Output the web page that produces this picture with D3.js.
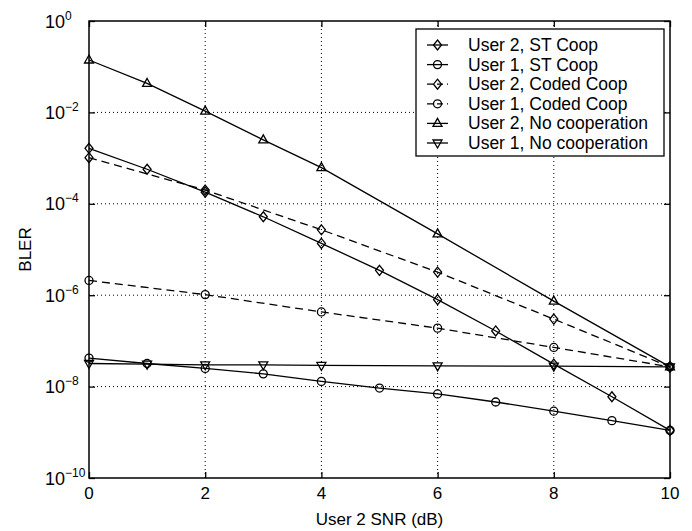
<!DOCTYPE html>
<html>
<head>
<meta charset="utf-8">
<script src="https://cdn.jsdelivr.net/npm/d3@7"></script>
<style>
  body { margin: 0; background: #fff; }
  text { font-family: "Liberation Sans", Arial, sans-serif; fill: #000; }
</style>
</head>
<body>
<div id="chart"></div>
<script>
// SNR points (dB)
const snrAll = [0, 1, 2, 3, 4, 5, 6, 7, 8, 9, 10];
const snrEven = [0, 2, 4, 6, 8, 10];
const snrNoCoop = [0, 1, 2, 3, 4, 6, 8, 10];

// BLER values
const u2St = [1.64e-3, 5.7e-4, 1.8e-4, 5.2e-5, 1.36e-5, 3.5e-6, 8e-7, 1.65e-7, 3.1e-8, 6e-9, 1.1e-9];
const u1St = [4.2e-8, 3.2e-8, 2.5e-8, 1.9e-8, 1.3e-8, 9.3e-9, 6.9e-9, 4.6e-9, 2.9e-9, 1.8e-9, 1.1e-9];
const u2Coded = [1.02e-3, 2.0e-4, 2.7e-5, 3.2e-6, 3.0e-7, 2.7e-8];
const u1Coded = [2.1e-6, 1.03e-6, 4.3e-7, 1.9e-7, 7.2e-8, 2.7e-8];
const u2No = [0.14, 0.043, 0.0107, 2.5e-3, 6.2e-4, 2.2e-5, 7.4e-7, 2.7e-8];
const u1No = [3.2e-8, 3.1e-8, 3.0e-8, 3.0e-8, 2.9e-8, 2.85e-8, 2.8e-8, 2.7e-8];

const xTicks = [0, 2, 4, 6, 8, 10];
const yExps = [0, -2, -4, -6, -8, -10];

const legendNames = [
  "User 2, ST Coop",
  "User 1, ST Coop",
  "User 2, Coded Coop",
  "User 1, Coded Coop",
  "User 2, No cooperation",
  "User 1, No cooperation"
];

const series = [
  { x: snrAll, y: u2St, marker: "diamond", dashed: false },
  { x: snrAll, y: u1St, marker: "circle", dashed: false },
  { x: snrEven, y: u2Coded, marker: "diamond", dashed: true },
  { x: snrEven, y: u1Coded, marker: "circle", dashed: true },
  { x: snrNoCoop, y: u2No, marker: "up", dashed: false },
  { x: snrNoCoop, y: u1No, marker: "down", dashed: false }
];

const w = 692;
const h = 531;
const pL = 89, pR = 670, pT = 21, pB = 478;

const xScale = d3.scaleLinear().domain([0, 10]).range([pL, pR]);
const yScale = d3.scaleLog().domain([1e-10, 1]).range([pB, pT]);

const svg = d3.select("#chart").append("svg")
  .attr("width", w)
  .attr("height", h);

// grid
svg.append("g").selectAll("line")
  .data(xTicks.slice(1, -1))
  .enter().append("line")
  .attr("x1", d => xScale(d)).attr("x2", d => xScale(d))
  .attr("y1", pT).attr("y2", pB)
  .attr("stroke", "#000").attr("stroke-width", 1)
  .attr("stroke-dasharray", "1,3");

svg.append("g").selectAll("line")
  .data(yExps.slice(1, -1))
  .enter().append("line")
  .attr("x1", pL).attr("x2", pR)
  .attr("y1", d => yScale(Math.pow(10, d))).attr("y2", d => yScale(Math.pow(10, d)))
  .attr("stroke", "#000").attr("stroke-width", 1)
  .attr("stroke-dasharray", "1,3");

// axes (ticks pointing inward, MATLAB style)
const tickLen = 6;
const xAxisB = d3.axisTop(xScale).tickValues(xTicks).tickSize(tickLen).tickFormat("");
const xAxisT = d3.axisBottom(xScale).tickValues(xTicks).tickSize(tickLen).tickFormat("");
const yVals = yExps.map(e => Math.pow(10, e));
const yAxisL = d3.axisRight(yScale).tickValues(yVals).tickSize(tickLen).tickFormat("");
const yAxisR = d3.axisLeft(yScale).tickValues(yVals).tickSize(tickLen).tickFormat("");

[
  [xAxisB, `translate(0,${pB})`],
  [xAxisT, `translate(0,${pT})`],
  [yAxisL, `translate(${pL},0)`],
  [yAxisR, `translate(${pR},0)`]
].forEach(([ax, tr]) => {
  const g = svg.append("g").attr("transform", tr).call(ax);
  g.select(".domain").remove();
  g.selectAll("line").attr("stroke", "#000").attr("stroke-width", 1.3);
});

svg.append("rect")
  .attr("x", pL).attr("y", pT)
  .attr("width", pR - pL).attr("height", pB - pT)
  .attr("fill", "none").attr("stroke", "#000").attr("stroke-width", 1.5);

// tick labels
svg.append("g").selectAll("text")
  .data(xTicks)
  .enter().append("text")
  .attr("x", d => xScale(d))
  .attr("y", pB + 21)
  .attr("text-anchor", "middle")
  .attr("font-size", 17)
  .text(d => d);

const yLab = svg.append("g").selectAll("text")
  .data(yExps)
  .enter().append("text")
  .attr("x", 45)
  .attr("y", d => yScale(Math.pow(10, d)) + 6.5)
  .attr("font-size", 18);
yLab.append("tspan").text("10");
yLab.append("tspan")
  .attr("dy", -8)
  .attr("font-size", 12)
  .text(d => d === 0 ? "0" : "\u2212" + Math.abs(d));

// axis titles
svg.append("text")
  .attr("x", (pL + pR) / 2)
  .attr("y", 525)
  .attr("text-anchor", "middle")
  .attr("font-size", 17)
  .text("User 2 SNR (dB)");

svg.append("text")
  .attr("transform", `translate(31,${(pT + pB) / 2}) rotate(-90)`)
  .attr("text-anchor", "middle")
  .attr("font-size", 17)
  .text("BLER");

// markers
function drawMarker(g, type, cx, cy) {
  if (type === "circle") {
    g.append("circle").attr("cx", cx).attr("cy", cy).attr("r", 4)
      .attr("fill", "none").attr("stroke", "#000").attr("stroke-width", 1.3);
    return;
  }
  let pts;
  if (type === "diamond") pts = [[0, -5], [4, 0], [0, 5], [-4, 0]];
  else if (type === "up") pts = [[0, -5], [4.5, 3], [-4.5, 3]];
  else pts = [[0, 5], [4.5, -3], [-4.5, -3]];
  g.append("polygon")
    .attr("points", pts.map(p => [cx + p[0], cy + p[1]].join(",")).join(" "))
    .attr("fill", "none").attr("stroke", "#000").attr("stroke-width", 1.3);
}

const line = d3.line().x(d => xScale(d[0])).y(d => yScale(d[1]));

series.forEach(s => {
  const pts = s.x.map((x, i) => [x, s.y[i]]);
  const g = svg.append("g");
  g.append("path")
    .attr("d", line(pts))
    .attr("fill", "none")
    .attr("stroke", "#000")
    .attr("stroke-width", 1.3)
    .attr("stroke-dasharray", s.dashed ? "8,5" : null);
  pts.forEach(p => drawMarker(g, s.marker, xScale(p[0]), yScale(p[1])));
});

// legend
const lx = 416, ly = 29, lw = 248, lh = 127;
const leg = svg.append("g");
leg.append("rect")
  .attr("x", lx).attr("y", ly).attr("width", lw).attr("height", lh)
  .attr("fill", "#fff").attr("stroke", "#000").attr("stroke-width", 1.3);

series.forEach((s, i) => {
  const yy = 45 + i * 19.6;
  leg.append("line")
    .attr("x1", 427).attr("x2", 448).attr("y1", yy).attr("y2", yy)
    .attr("stroke", "#000").attr("stroke-width", 1.3)
    .attr("stroke-dasharray", s.dashed ? "6,4" : null);
  drawMarker(leg, s.marker, 437.5, yy);
  leg.append("text")
    .attr("x", 468).attr("y", yy + 6)
    .attr("font-size", 17.5)
    .text(legendNames[i]);
});
</script>
</body>
</html>
